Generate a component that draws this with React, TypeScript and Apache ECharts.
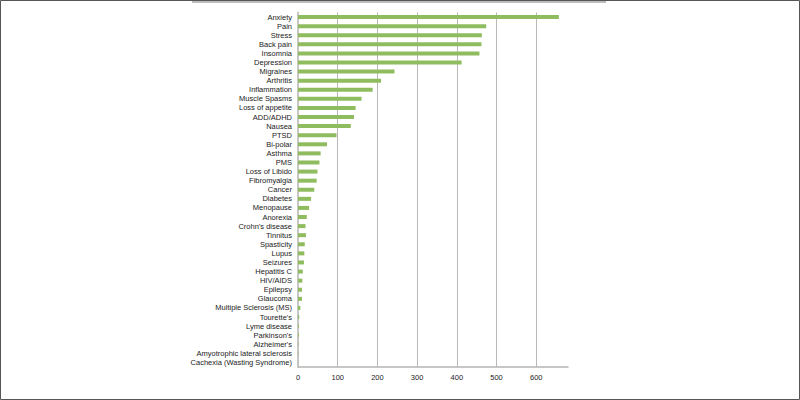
import { useEffect, useRef } from 'react';
import * as echarts from 'echarts';

// conditions, from the top of the chart down
const conditions = [
  'Anxiety', 'Pain', 'Stress', 'Back pain', 'Insomnia', 'Depression', 'Migraines',
  'Arthritis', 'Inflammation', 'Muscle Spasms', 'Loss of appetite', 'ADD/ADHD',
  'Nausea', 'PTSD', 'Bi-polar', 'Asthma', 'PMS', 'Loss of Libido', 'Fibromyalgia',
  'Cancer', 'Diabetes', 'Menopause', 'Anorexia', "Crohn's disease", 'Tinnitus',
  'Spasticity', 'Lupus', 'Seizures', 'Hepatitis C', 'HIV/AIDS', 'Epilepsy',
  'Glaucoma', 'Multiple Sclerosis (MS)', "Tourette's", 'Lyme disease',
  "Parkinson's", "Alzheimer's", 'Amyotrophic lateral sclerosis',
  'Cachexia (Wasting Syndrome)',
];

const counts = [
  657, 474, 463, 462, 457, 412, 243,
  209, 188, 160, 145, 141,
  133, 97, 73, 57, 54, 49, 47,
  41, 33, 28, 22, 19, 20,
  17, 16, 15, 12, 11, 10,
  10, 6, 3, 2,
  2, 1, 1,
  0.5,
];

const axisMax = 680;
const tickStep = 100;

const App = () => {
  const chartRef = useRef<HTMLDivElement>(null);

  useEffect(() => {
    if (!chartRef.current) return;
    const chart = echarts.init(chartRef.current, undefined, { renderer: 'svg' });

    const font = '"Liberation Sans", Arial, sans-serif';

    chart.setOption({
      animation: false,
      backgroundColor: '#fff',
      grid: { left: 298, right: 232, top: 12.5, bottom: 33 },
      xAxis: {
        type: 'value',
        min: 0,
        max: axisMax,
        interval: tickStep,
        axisLine: { show: true, lineStyle: { color: '#b5b5b5', width: 1.5 } },
        axisTick: { show: false },
        axisLabel: {
          showMaxLabel: false,
          margin: 6,
          fontSize: 7.5,
          fontFamily: font,
          color: '#222',
        },
        splitLine: {
          show: true,
          showMinLine: false,
          showMaxLine: false,
          lineStyle: { color: '#b8b8b8', width: 1 },
        },
      },
      yAxis: {
        type: 'category',
        data: conditions,
        inverse: true,
        axisLine: { show: true, lineStyle: { color: '#b5b5b5', width: 1.5 } },
        axisTick: { show: false },
        axisLabel: {
          interval: 0,
          margin: 6,
          fontSize: 7.5,
          fontFamily: font,
          color: '#222',
        },
      },
      series: [
        {
          type: 'bar',
          data: counts,
          barWidth: 4,
          itemStyle: { color: '#8fbc5e' },
        },
      ],
      graphic: [
        {
          type: 'rect',
          shape: { x: 0.5, y: 0.5, width: 799, height: 399 },
          style: { fill: 'none', stroke: '#555', lineWidth: 1 },
          silent: true,
        },
        {
          type: 'rect',
          shape: { x: 192, y: 1, width: 414, height: 2 },
          style: { fill: '#bdbdbd' },
          silent: true,
        },
      ],
    });

    return () => {
      chart.dispose();
    };
  }, []);

  return (
    <div
      ref={chartRef}
      style={{ position: 'fixed', left: 0, top: 0, width: '800px', height: '400px' }}
    />
  );
};

export default App;
